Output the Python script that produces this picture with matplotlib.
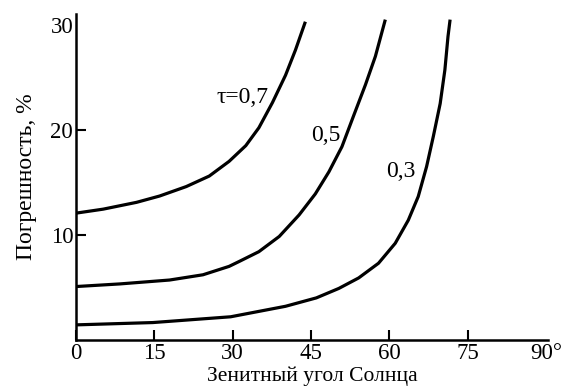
import numpy as np
import matplotlib.pyplot as plt

plt.rcParams['font.family'] = ['Liberation Serif', 'DejaVu Serif']

# zenith angle (deg) and error (%) for each transparency tau
x_07 = [0, 5.2, 11.6, 16.0, 21.1, 25.5, 29.3, 32.5, 35.0, 37.6, 40.1, 42.0, 43.9]
y_07 = [12.07, 12.45, 13.1, 13.7, 14.6, 15.6, 17.0, 18.5, 20.2, 22.6, 25.2, 27.6, 30.3]

x_05 = [0, 8.4, 17.9, 24.3, 29.3, 31.2, 35.0, 38.9, 42.7, 45.8, 48.4, 50.9, 53.1, 55.4, 57.3, 59.2]
y_05 = [5.08, 5.33, 5.7, 6.2, 7.0, 7.46, 8.4, 9.85, 11.9, 13.9, 16.0, 18.4, 21.3, 24.3, 27.0, 30.5]

x_03 = [0, 14.7, 29.6, 40.1, 46.0, 50.3, 54.1, 57.9, 61.1, 63.6, 65.5, 67.1, 68.4, 69.7, 70.6, 71.2, 71.6]
y_03 = [1.43, 1.65, 2.2, 3.2, 4.0, 4.9, 5.9, 7.3, 9.2, 11.4, 13.65, 16.5, 19.4, 22.5, 25.7, 28.9, 30.5]

xticks = [0, 15, 30, 45, 60, 75, 90]
xlabels = ['0', '15', '30', '45', '60', '75', '90°']
yticks = [10, 20, 30]

fig = plt.figure(figsize=(5.63, 3.88), dpi=100)
ax = fig.add_axes([0.135, 0.124, 0.838, 0.839])

for xs, ys in [(x_07, y_07), (x_05, y_05), (x_03, y_03)]:
    ax.plot(xs, ys, color='k', lw=2.3, solid_capstyle='butt', solid_joinstyle='round')

ax.text(36.8, 23.1, 'τ=0,7', fontsize=17, ha='right', va='center')
ax.text(50.6, 19.5, '0,5', fontsize=17, ha='right', va='center')
ax.text(65.0, 16.0, '0,3', fontsize=17, ha='right', va='center')

ax.set_xlim(0, 90.3)
ax.set_ylim(0, 31)
ax.set_xticks(xticks, xlabels)
ax.set_yticks(yticks)
ax.tick_params(direction='in', length=7, width=1.5, labelsize=16.5, pad=2)
ax.yaxis.get_major_ticks()[-1].tick1line.set_visible(False)
ax.xaxis.get_major_ticks()[-1].tick1line.set_visible(False)

for s in ['top', 'right']:
    ax.spines[s].set_visible(False)
for s in ['left', 'bottom']:
    ax.spines[s].set_linewidth(1.8)

ax.set_xlabel('Зенитный угол Солнца', fontsize=15.5, labelpad=2)
ax.set_ylabel('Погрешность, %', fontsize=17, labelpad=10)

fig.savefig('out.png', dpi=100)
